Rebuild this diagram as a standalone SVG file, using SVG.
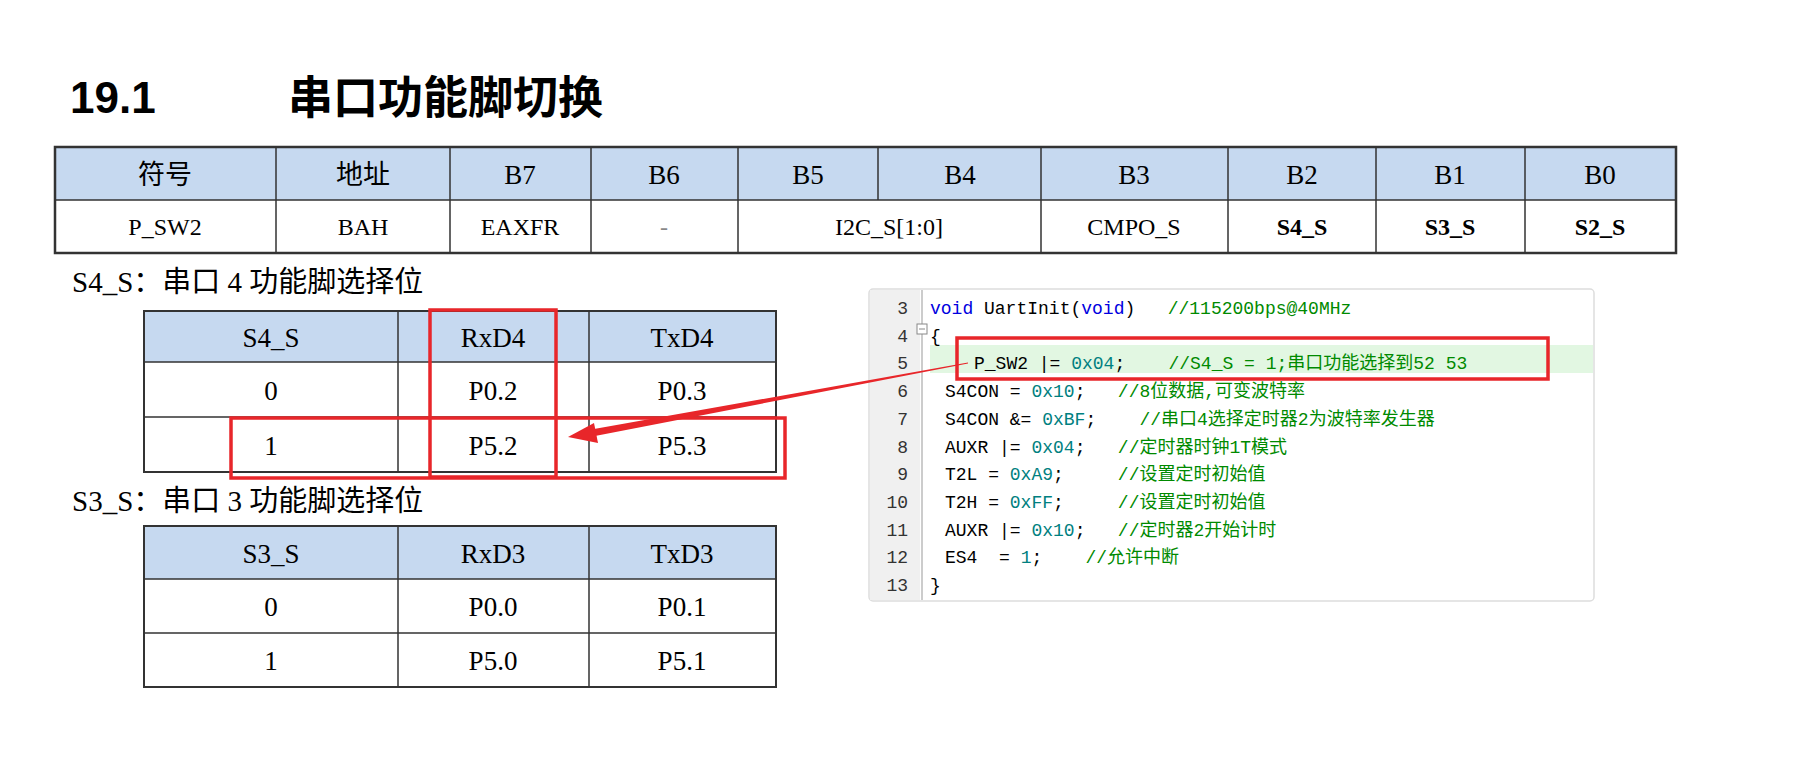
<svg xmlns="http://www.w3.org/2000/svg" width="1802" height="762" viewBox="0 0 1802 762">
<style>
.t{font-family:"Liberation Serif","Noto Sans CJK SC",serif;font-size:27px;fill:#000;text-anchor:middle}
.d{font-size:24px}
.b{font-weight:bold}
.g{stroke:#333;stroke-width:1.5;fill:none}
.h{fill:#c6d9f0}
.c{font-family:"Liberation Mono","Noto Sans CJK SC",monospace;font-size:18px;fill:#000;white-space:pre}
.n{font-family:"Liberation Mono",monospace;font-size:18px;fill:#333;text-anchor:end}
.k{fill:#0000e0}.x{fill:#008080}.m{fill:#008a00}
.r{fill:none;stroke:#e8262a;stroke-width:3.5}
</style>
<rect width="1802" height="762" fill="#fff"/>
<g id="title">
<text x="70" y="113" style="font-family:'Liberation Sans',sans-serif;font-size:44px;font-weight:bold">19.1</text>
<text x="288" y="114" style="font-family:'Noto Sans CJK SC',sans-serif;font-size:45px;font-weight:bold">串口功能脚切换</text>
</g>
<g id="regtable">
<rect class="h" x="55" y="147" width="1621" height="53"/>
<rect class="g" x="55" y="147" width="1621" height="106" style="stroke-width:2.5"/>
<path class="g" d="M55 200H1676M276 147V253M450 147V253M591 147V253M738 147V253M878 147V200M1041 147V253M1228 147V253M1376 147V253M1525 147V253"/>
<text class="t" x="165" y="184">符号</text><text class="t" x="363" y="184">地址</text>
<text class="t" x="520" y="184">B7</text><text class="t" x="664" y="184">B6</text>
<text class="t" x="808" y="184">B5</text><text class="t" x="960" y="184">B4</text>
<text class="t" x="1134" y="184">B3</text><text class="t" x="1302" y="184">B2</text>
<text class="t" x="1450" y="184">B1</text><text class="t" x="1600" y="184">B0</text>
<text class="t d" x="165" y="235">P_SW2</text><text class="t d" x="363" y="235">BAH</text>
<text class="t d" x="520" y="235">EAXFR</text><text class="t d" x="664" y="235" style="fill:#888">-</text>
<text class="t d" x="889" y="235">I2C_S[1:0]</text>
<text class="t d" x="1134" y="235">CMPO_S</text>
<text class="t d b" x="1302" y="235">S4_S</text><text class="t d b" x="1450" y="235">S3_S</text><text class="t d b" x="1600" y="235">S2_S</text>
</g>
<g id="s4label"><text x="72" y="292" style="font-family:'Liberation Serif','Noto Sans CJK SC',serif;font-size:29px">S4_S：串口 4 功能脚选择位</text></g>
<g id="s4table">
<rect class="h" x="144" y="311" width="632" height="51"/>
<rect class="g" x="144" y="311" width="632" height="161" style="stroke-width:2"/>
<path class="g" d="M144 362H776M144 417H776M398 311V472M589 311V472"/>
<text class="t" x="271" y="347">S4_S</text><text class="t" x="493" y="347">RxD4</text><text class="t" x="682" y="347">TxD4</text>
<text class="t" x="271" y="400">0</text><text class="t" x="493" y="400">P0.2</text><text class="t" x="682" y="400">P0.3</text>
<text class="t" x="271" y="455">1</text><text class="t" x="493" y="455">P5.2</text><text class="t" x="682" y="455">P5.3</text>
</g>
<g id="s3label"><text x="72" y="511" style="font-family:'Liberation Serif','Noto Sans CJK SC',serif;font-size:29px">S3_S：串口 3 功能脚选择位</text></g>
<g id="s3table">
<rect class="h" x="144" y="526" width="632" height="53"/>
<rect class="g" x="144" y="526" width="632" height="161" style="stroke-width:2"/>
<path class="g" d="M144 579H776M144 633H776M398 526V687M589 526V687"/>
<text class="t" x="271" y="563">S3_S</text><text class="t" x="493" y="563">RxD3</text><text class="t" x="682" y="563">TxD3</text>
<text class="t" x="271" y="616">0</text><text class="t" x="493" y="616">P0.0</text><text class="t" x="682" y="616">P0.1</text>
<text class="t" x="271" y="670">1</text><text class="t" x="493" y="670">P5.0</text><text class="t" x="682" y="670">P5.1</text>
</g>
<g id="code">
<rect x="869" y="289" width="725" height="312" rx="4" fill="#fff" stroke="#ddd" stroke-width="1.5"/>
<rect x="870" y="290" width="50" height="310" fill="#f0f0f0"/>
<line x1="922" y1="290" x2="922" y2="600" stroke="#999" stroke-width="1"/>
<rect x="930" y="345" width="663" height="28" fill="#e2f7e2"/>
<rect x="917" y="324" width="10" height="10" fill="#fff" stroke="#888"/><line x1="919" y1="329" x2="925" y2="329" stroke="#888"/>
<text class="n" x="908" y="314">3</text><text class="n" x="908" y="342">4</text><text class="n" x="908" y="369">5</text><text class="n" x="908" y="397">6</text><text class="n" x="908" y="425">7</text><text class="n" x="908" y="453">8</text><text class="n" x="908" y="480">9</text><text class="n" x="908" y="508">10</text><text class="n" x="908" y="536">11</text><text class="n" x="908" y="563">12</text><text class="n" x="908" y="591">13</text>
<text class="c" x="930" y="314"><tspan class="k">void</tspan> UartInit(<tspan class="k">void</tspan>)   <tspan class="m">//115200bps@40MHz</tspan></text>
<text class="c" x="930" y="342">{</text>
<text class="c" x="974" y="369">P_SW2 |= <tspan class="x">0x04</tspan>;    <tspan class="m">//S4_S = 1;串口功能选择到52 53</tspan></text>
<text class="c" x="945" y="397">S4CON = <tspan class="x">0x10</tspan>;   <tspan class="m">//8位数据,可变波特率</tspan></text>
<text class="c" x="945" y="425">S4CON &amp;= <tspan class="x">0xBF</tspan>;    <tspan class="m">//串口4选择定时器2为波特率发生器</tspan></text>
<text class="c" x="945" y="453">AUXR |= <tspan class="x">0x04</tspan>;   <tspan class="m">//定时器时钟1T模式</tspan></text>
<text class="c" x="945" y="480">T2L = <tspan class="x">0xA9</tspan>;     <tspan class="m">//设置定时初始值</tspan></text>
<text class="c" x="945" y="508">T2H = <tspan class="x">0xFF</tspan>;     <tspan class="m">//设置定时初始值</tspan></text>
<text class="c" x="945" y="536">AUXR |= <tspan class="x">0x10</tspan>;   <tspan class="m">//定时器2开始计时</tspan></text>
<text class="c" x="945" y="563">ES4  = <tspan class="x">1</tspan>;    <tspan class="m">//允许中断</tspan></text>
<text class="c" x="930" y="591">}</text>
</g>
<g id="highlights">
<rect class="r" x="430" y="310" width="126" height="167"/>
<rect class="r" x="231" y="418" width="554" height="60"/>
<rect class="r" x="957" y="338" width="591" height="41"/>
</g>
<g id="connectors">
<polygon points="968,362.5 968,363.5 595,436 594,429" fill="#e8262a"/>
<polygon points="568,437 594,423 598,443" fill="#e8262a"/>
</g>
</svg>
